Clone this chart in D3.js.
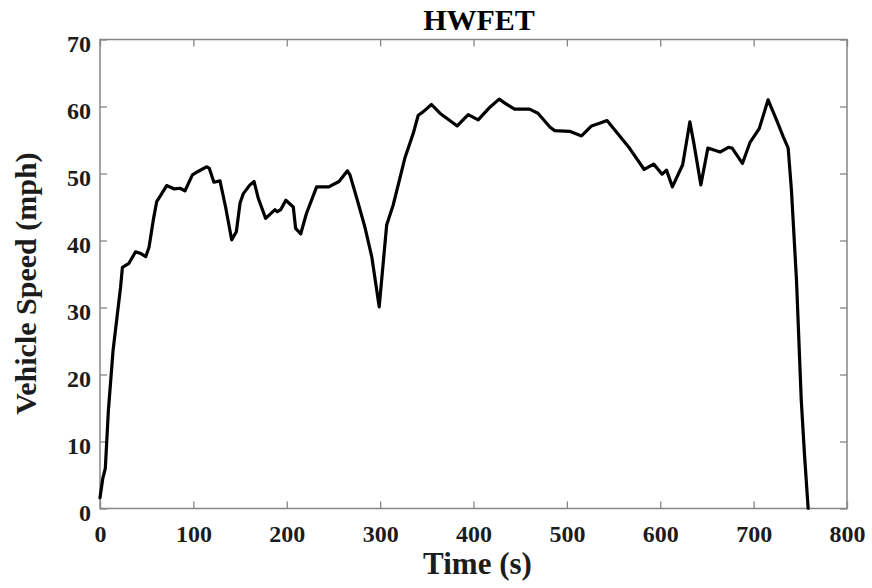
<!DOCTYPE html>
<html><head><meta charset="utf-8">
<script src="https://cdn.jsdelivr.net/npm/d3@7"></script>
<style>body{margin:0;background:#fff}svg{display:block}text{font-family:"Liberation Serif","Times New Roman",serif;font-weight:bold}</style>
</head><body>
<svg id="c" width="872" height="588"></svg>
<script>
const timeS = [0,3,5.7,9,14,22,24,31,38,43,49,52.5,57,60.7,65.3,71.4,79.6,85.7,91,94.6,99,105,114,117,122,128.5,134.5,141,146,150,153.5,160.6,165,169.5,177.4,187.4,190,193.5,199,207,209.5,215,221,232,245,256,265,267.7,275,283.7,291,299,307,314,326.5,335.5,340.8,346,355,364,382.6,394.3,405,417.6,427.5,433.6,444,460,469,482,487,503,515.7,526.4,535,543,567,582.8,593,602,606.7,613,624,631.7,636,643.5,651,664,673,677,688,696,706,715.5,724.5,732,737,740.5,745.9,751,754.5,758.4];
const speedMph = [1.6,4.5,6,14.7,23.6,33,36,36.6,38.3,38.1,37.6,39,43,45.8,46.8,48.2,47.7,47.8,47.4,48.5,49.8,50.3,51,50.8,48.7,48.9,45,40.1,41.3,45.6,47,48.3,48.8,46.3,43.3,44.6,44.3,44.6,46,45,41.8,41,44,48,48,48.8,50.4,49.8,46.3,42,37.6,30.1,42.3,45.3,52.3,56,58.7,59.2,60.3,59,57.1,58.8,58,59.9,61.1,60.5,59.6,59.6,59,56.9,56.4,56.3,55.6,57.1,57.5,57.9,53.8,50.6,51.4,49.9,50.5,48,51.3,57.7,54.5,48.3,53.8,53.2,53.9,53.8,51.5,54.6,56.7,61,58,55.4,53.8,47.5,34.1,16.2,8,0];
const xTicks = [0,100,200,300,400,500,600,700,800];
const yTicks = [0,10,20,30,40,50,60,70];

const svg = d3.select("#c");
const L=100, R=847, T=39.5, B=508.5;
const x = d3.scaleLinear().domain([0,800]).range([L,R]);
const y = d3.scaleLinear().domain([0,70]).range([B,T]);
const axisCol = "#868686", txtCol = "#1c1c1c";

svg.append("rect").attr("x",L).attr("y",T).attr("width",R-L).attr("height",B-T)
  .attr("fill","none").attr("stroke",axisCol).attr("stroke-width",1.5);

const gx = svg.append("g").attr("transform",`translate(0,${B})`)
  .call(d3.axisBottom(x).tickValues(xTicks).tickSize(-7).tickPadding(16).tickFormat(d3.format("d")));
const gxt = svg.append("g").attr("transform",`translate(0,${T})`)
  .call(d3.axisTop(x).tickValues(xTicks).tickSize(-7).tickFormat(""));
const gy = svg.append("g").attr("transform",`translate(${L},0)`)
  .call(d3.axisLeft(y).tickValues(yTicks).tickSize(-7).tickPadding(9).tickFormat(d3.format("d")));
const gyr = svg.append("g").attr("transform",`translate(${R},0)`)
  .call(d3.axisRight(y).tickValues(yTicks).tickSize(-7).tickFormat(""));
[gx,gxt,gy,gyr].forEach(g=>{
  g.select(".domain").remove();
  g.selectAll(".tick line").attr("stroke",axisCol).attr("stroke-width",1.3);
  g.selectAll(".tick text").attr("fill",txtCol).attr("font-size",24)
   .attr("font-family",'"Liberation Serif",serif').attr("font-weight","bold");
});
gy.selectAll(".tick text").attr("dy","0.48em");

const data = timeS.map((t,i)=>[t,speedMph[i]]);
svg.append("path").datum(data)
  .attr("d", d3.line().x(d=>x(d[0])).y(d=>y(d[1])))
  .attr("fill","none").attr("stroke","#000").attr("stroke-width",3.2)
  .attr("stroke-linejoin","round").attr("stroke-linecap","round");

svg.append("text").attr("x",479).attr("y",29.5).attr("text-anchor","middle")
  .attr("font-size",30).attr("fill","#000").text("HWFET");
svg.append("text").attr("x",477.5).attr("y",574).attr("text-anchor","middle")
  .attr("font-size",31).attr("fill",txtCol).text("Time (s)");
svg.append("text").attr("transform",`translate(36,283.5) rotate(-90)`).attr("text-anchor","middle")
  .attr("font-size",30).attr("fill",txtCol).text("Vehicle Speed (mph)");
</script>
</body></html>
